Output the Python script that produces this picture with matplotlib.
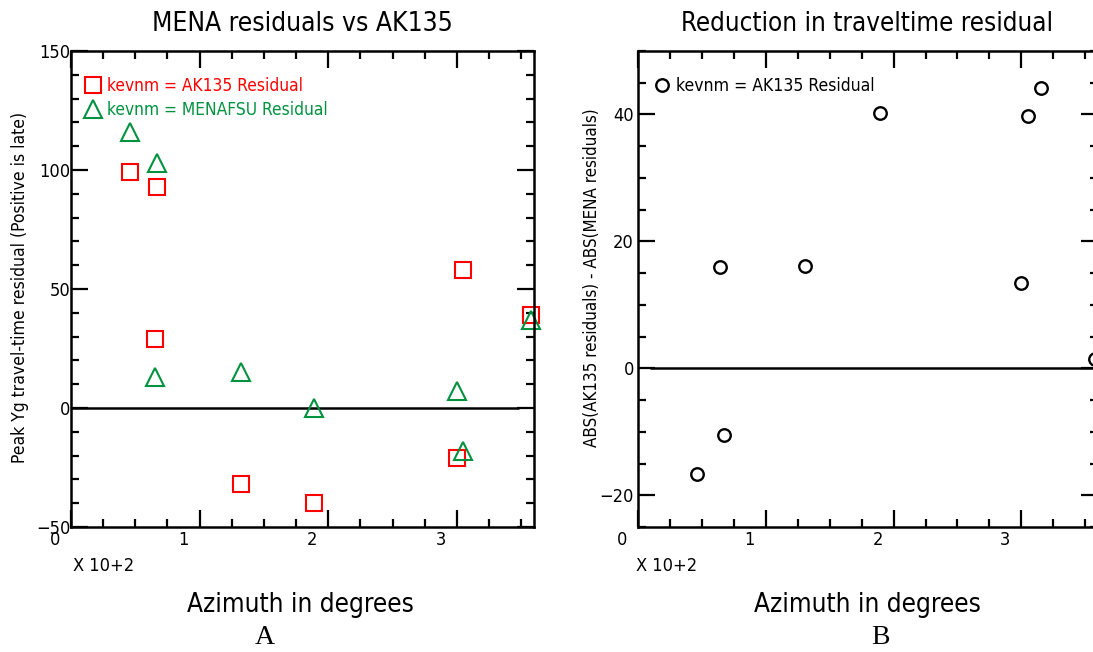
import matplotlib
matplotlib.use('Agg')
import matplotlib.pyplot as plt
import matplotlib.transforms as mtransforms
from matplotlib import font_manager
from matplotlib.lines import Line2D
from matplotlib.ticker import MultipleLocator

# Panel A: residual per station azimuth for the two models
az_ak135 = [46, 67, 65, 132, 189, 300, 305, 358]
res_ak135 = [99, 93, 29, -32, -40, -21, 58, 39]
az_mena = [46, 67, 65, 132, 189, 300, 305, 358]
res_mena = [116, 103, 13, 15, 0, 7, -18, 37]

# Panel B: ABS(AK135) - ABS(MENA)
az_diff = [46, 67, 64, 131, 189, 300, 305, 315, 358]
diff = [-16.6, -10.5, 15.9, 16.2, 40.3, 13.5, 39.7, 44.2, 1.5]

legend_ak135 = 'kevnm = AK135 Residual'
legend_mena = 'kevnm = MENAFSU Residual'

# narrow font if one is installed, otherwise plain DejaVu fitted to width
fl = font_manager.fontManager.ttflist
FONT = 'DejaVu Sans'
STRETCH = 'normal'
if any(f.name == 'Liberation Sans Narrow' for f in fl):
    FONT = 'Liberation Sans Narrow'
elif any(f.name == 'DejaVu Sans' and 'ondensed' in f.fname for f in fl):
    STRETCH = 'condensed'
elif any(f.name == 'Noto Sans' and 'ondensed' in f.fname for f in fl):
    FONT, STRETCH = 'Noto Sans', 'condensed'
plt.rcParams['font.family'] = FONT
plt.rcParams['font.stretch'] = STRETCH

RED = '#ff0000'
GREEN = '#00923f'
W, H = 1093, 652

fig = plt.figure(figsize=(W / 100, H / 100), dpi=100)
renderer = fig.canvas.get_renderer()


def fit(s, width, **kw):
    # font size that makes s about `width` pixels wide
    t = fig.text(0, 0, s, fontsize=20, **kw)
    w = t.get_window_extent(renderer).width
    t.remove()
    return 20 * width / w


def px_axes(left, top, right, bottom):
    return fig.add_axes([left / W, 1 - bottom / H, (right - left) / W, (bottom - top) / H])


TICK_FS = fit('100', 31)


def style_axes(ax, ymajor, yminor, ypad):
    ax.xaxis.set_major_locator(MultipleLocator(100))
    ax.xaxis.set_minor_locator(MultipleLocator(25))
    ax.yaxis.set_major_locator(MultipleLocator(ymajor))
    ax.yaxis.set_minor_locator(MultipleLocator(yminor))
    ax.xaxis.set_major_formatter(lambda v, p: '%d' % round(v / 100))
    ax.tick_params(which='both', direction='in', top=True, right=True, width=1.6,
                   labelsize=TICK_FS, pad=3)
    ax.tick_params(which='major', length=12)
    ax.tick_params(which='minor', length=6)
    ax.tick_params(axis='y', pad=ypad)
    for s in ax.spines.values():
        s.set_linewidth(1.8)
    # SAC puts the x labels a little left of the tick
    off = mtransforms.ScaledTranslation(-0.16, 0, fig.dpi_scale_trans)
    for lab in ax.get_xticklabels():
        lab.set_transform(lab.get_transform() + off)


# ---- Panel A ----
axA = px_axes(71, 51, 534, 527)
axA.set_xlim(0, 360)
axA.set_ylim(-50, 150)
axA.hlines(0, 0, 348, color='black', lw=1.8)
axA.plot(az_ak135, res_ak135, 's', ms=12, mfc='none', mec=RED, mew=1.5, clip_on=False)
axA.plot(az_mena, res_mena, '^', ms=13, mfc='none', mec=GREEN, mew=1.5, clip_on=False)
style_axes(axA, 50, 10, 0.5)
legA_fs = fit(legend_mena, 220)
hA = [Line2D([], [], ls='none', marker='s', ms=12, mfc='none', mec=RED, mew=1.5),
      Line2D([], [], ls='none', marker='^', ms=13, mfc='none', mec=GREEN, mew=1.5)]
axA.legend(hA, [legend_ak135, legend_mena], loc='upper left', bbox_to_anchor=(0.029, 0.946),
           frameon=False, fontsize=legA_fs, handlelength=1.0, handletextpad=0.3,
           labelspacing=0.35, borderpad=0, borderaxespad=0, labelcolor=[RED, GREEN])

# ---- Panel B ----
axB = px_axes(638, 51, 1098, 527)
axB.set_xlim(0, 360)
axB.set_ylim(-25, 50)
axB.hlines(0, 9, 360, color='black', lw=1.8)
axB.plot(az_diff, diff, 'o', ms=9, mfc='none', mec='black', mew=1.7, clip_on=False)
style_axes(axB, 20, 5, 3)
hB = [Line2D([], [], ls='none', marker='o', ms=9, mfc='none', mec='black', mew=1.7)]
axB.legend(hB, [legend_ak135], loc='upper left', bbox_to_anchor=(0.036, 0.945),
           frameon=False, fontsize=fit(legend_ak135, 198), handlelength=0.8,
           handletextpad=0.4, borderpad=0, borderaxespad=0)


# ---- texts ----
def ftext(x, y, s, width=None, **kw):
    if width is not None:
        kw['fontsize'] = fit(s, width, rotation=0,
                             **{k: v for k, v in kw.items() if k == 'family'})
    fig.text(x / W, 1 - y / H, s, **kw)


ftext(302, 24, 'MENA residuals vs AK135', 300, ha='center', va='center')
ftext(867, 24, 'Reduction in traveltime residual', 372, ha='center', va='center')
ftext(300, 605, 'Azimuth in degrees', 227, ha='center', va='center')
ftext(867, 605, 'Azimuth in degrees', 227, ha='center', va='center')
ftext(73, 566, 'X 10+2', 61, ha='left', va='center')
ftext(636, 566, 'X 10+2', 61, ha='left', va='center')
ftext(20, 287, 'Peak Yg travel-time residual (Positive is late)', 351, rotation=90,
      ha='center', va='center')
ftext(592, 278, 'ABS(AK135 residuals) - ABS(MENA residuals)', 339, rotation=90,
      ha='center', va='center')
ftext(265, 637, 'A', ha='center', va='center', fontsize=20, family='Liberation Serif')
ftext(880, 637, 'B', ha='center', va='center', fontsize=20, family='Liberation Serif')

fig.savefig('out.png', dpi=100)
